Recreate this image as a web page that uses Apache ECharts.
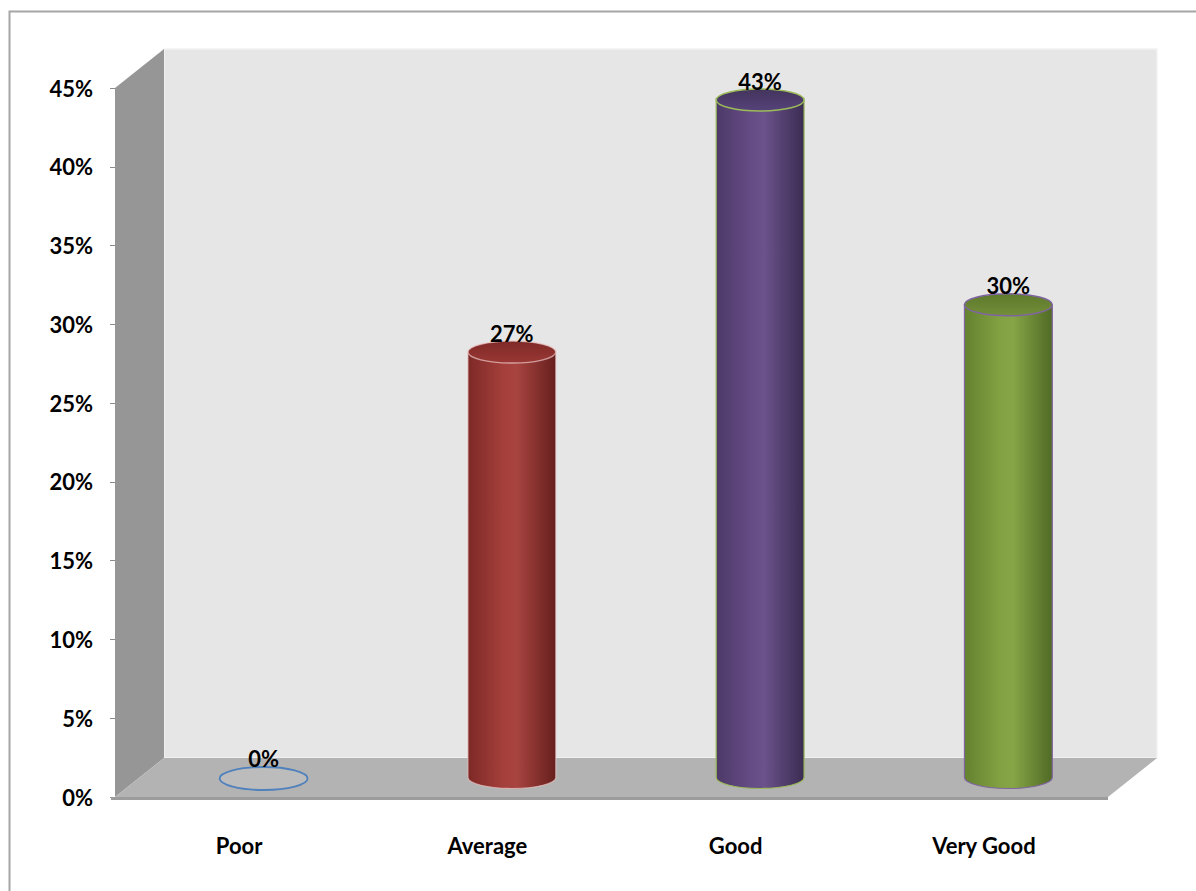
<!DOCTYPE html>
<html>
<head>
<meta charset="utf-8">
<script src="https://cdn.jsdelivr.net/npm/echarts@6/dist/echarts.min.js"></script>
<style>
  html, body { margin: 0; padding: 0; background: #fff; }
  #chart { width: 1196px; height: 891px; }
</style>
</head>
<body>
<div id="chart"></div>
<script>
const categories = ["Poor", "Average", "Good", "Very Good"];
const ratings = [0, 27, 43, 30];

// 3D depth of the box (back plane offset)
const DX = 49, DY = -39;
const FONT = "Lato, 'DejaVu Sans', sans-serif";

const palette = [
  { stroke: "#4f81bd" },
  {
    body: ["#7d2926", "#a43f3b", "#a84440", "#661f1d"],
    cap: ["#7e2a27", "#9a3734"],
    stroke: "rgba(235,200,200,0.7)",
  },
  {
    body: ["#4d3a68", "#654c85", "#6a528a", "#3b2c52"],
    cap: ["#43345c", "#56427a"],
    stroke: "#9bbb59",
  },
  {
    body: ["#64822f", "#82a142", "#86a646", "#506a25"],
    cap: ["#5d792b", "#738f3a"],
    stroke: "#8064a2",
  },
];

function hGrad(c) {
  return new echarts.graphic.LinearGradient(0, 0, 1, 0, [
    { offset: 0, color: c[0] },
    { offset: 0.4, color: c[1] },
    { offset: 0.55, color: c[2] },
    { offset: 1, color: c[3] },
  ]);
}

function ellipsePath(cx, cy, rx, ry) {
  return `M${cx - rx},${cy} A${rx},${ry} 0 1 0 ${cx + rx},${cy} A${rx},${ry} 0 1 0 ${cx - rx},${cy} Z`;
}

const chart = echarts.init(document.getElementById("chart"), null, { renderer: "svg" });

chart.setOption({
  animation: false,
  graphic: [
    {
      type: "rect",
      left: 7,
      top: 9,
      shape: { width: 1210, height: 900 },
      style: { fill: "none", stroke: "#a6a6a6", lineWidth: 2 },
      silent: true,
    },
  ],
  grid: { left: 115, right: 88, top: 88, bottom: 94 },
  xAxis: {
    type: "category",
    data: categories,
    axisLine: { show: false },
    axisTick: { show: false },
    axisLabel: {
      margin: 37,
      fontSize: 22,
      fontWeight: "bold",
      fontFamily: FONT,
      color: "#000",
    },
  },
  yAxis: {
    type: "value",
    min: 0,
    max: 45,
    interval: 5,
    axisLine: { show: false },
    axisTick: { show: true, length: 5, lineStyle: { color: "#8c8c8c" } },
    splitLine: { show: false },
    axisLabel: {
      formatter: "{value}%",
      margin: 22,
      fontSize: 22,
      fontWeight: "bold",
      fontFamily: FONT,
      color: "#000",
    },
  },
  series: [
    {
      type: "custom",
      silent: true,
      z: 1,
      data: [0],
      renderItem: (params) => {
        const cs = params.coordSys;
        const x0 = cs.x, y0 = cs.y, x1 = cs.x + cs.width, y1 = cs.y + cs.height;
        return {
          type: "group",
          children: [
            {
              type: "polygon",
              shape: { points: [[x0 + DX, y0 + DY], [x1 + DX, y0 + DY], [x1 + DX, y1 + DY], [x0 + DX, y1 + DY]] },
              style: { fill: "#e6e6e6", stroke: "#f2f2f2", lineWidth: 1.5 },
            },
            {
              type: "polygon",
              shape: { points: [[x0, y0], [x0 + DX, y0 + DY], [x0 + DX, y1 + DY], [x0, y1]] },
              style: { fill: "#969696" },
            },
            {
              type: "polygon",
              shape: { points: [[x0, y1], [x0 + DX, y1 + DY], [x1 + DX, y1 + DY], [x1, y1]] },
              style: { fill: "#b3b3b3" },
            },
            {
              type: "rect",
              shape: { x: x0 - 4, y: y1, width: x1 - x0 + 4, height: 3 },
              style: { fill: "#9c9c9c" },
            },
          ],
        };
      },
    },
    {
      type: "custom",
      z: 3,
      data: categories.map((c, i) => [i, ratings[i]]),
      encode: { x: 0, y: 1 },
      renderItem: (params, api) => {
        const i = api.value(0), v = api.value(1);
        const top = api.coord([i, v]);
        const base = api.coord([i, 0]);
        const r = api.size([1, 0])[0] * 0.177;
        const ry = 11;
        const cx = top[0] + DX / 2;
        const ty = top[1] + DY / 2;
        const by = base[1] + DY / 2;
        const pal = palette[params.dataIndex];
        const label = {
          type: "text",
          z2: 10,
          style: {
            text: v + "%",
            x: cx,
            y: ty - 19,
            align: "center",
            verticalAlign: "middle",
            fontSize: 22,
            fontWeight: "bold",
            fontFamily: FONT,
            fill: "#000",
          },
        };
        if (!pal.body) {
          return {
            type: "group",
            children: [
              {
                type: "path",
                shape: { pathData: ellipsePath(cx, by + 1, r, 11.5) },
                style: { fill: "rgba(255,255,255,0.12)", stroke: pal.stroke, lineWidth: 1.8 },
              },
              label,
            ],
          };
        }
        const bodyPath =
          `M${cx - r},${ty} L${cx - r},${by} A${r},${ry} 0 0 0 ${cx + r},${by} L${cx + r},${ty} Z`;
        return {
          type: "group",
          children: [
            {
              type: "path",
              shape: { pathData: bodyPath },
              style: { fill: hGrad(pal.body), stroke: pal.stroke, lineWidth: 1.2 },
            },
            {
              type: "path",
              shape: { pathData: ellipsePath(cx, ty, r, ry) },
              style: {
                fill: new echarts.graphic.LinearGradient(0, 0, 0, 1, [
                  { offset: 0, color: pal.cap[0] },
                  { offset: 1, color: pal.cap[1] },
                ]),
                stroke: pal.stroke,
                lineWidth: 1.5,
              },
            },
            label,
          ],
        };
      },
    },
  ],
});
</script>
</body>
</html>
